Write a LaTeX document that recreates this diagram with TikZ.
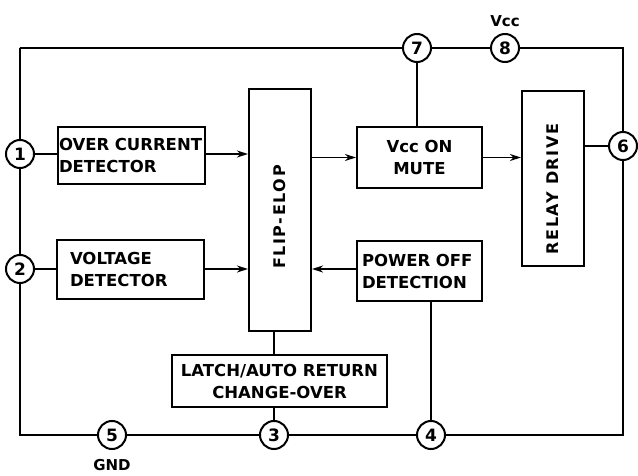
\documentclass[tikz,border=0pt]{standalone}
\usepackage{fontspec}
\setmainfont{DejaVu Sans}
\usetikzlibrary{arrows.meta}
\begin{document}
\begin{tikzpicture}[x=1pt,y=-1pt,
  blk/.style={draw, line width=2.1pt, inner ysep=0pt, font=\bfseries\fontsize{16.5}{22}\selectfont},
  vblk/.style={draw, line width=2.1pt, inner sep=0pt},
  pin/.style={draw, circle, fill=white, line width=2pt, minimum size=28pt, inner sep=0pt, font=\bfseries\fontsize{17}{17}\selectfont},
  lbl/.style={font=\bfseries\fontsize{15}{15}\selectfont},
  vtxt/.style={rotate=90, font=\bfseries\fontsize{16}{16}\selectfont\addfontfeature{LetterSpace=10}},
  wire/.style={line width=2.4pt},
  sig/.style={line width=1.6pt},
  arr/.style={sig, -{Stealth[length=11pt,width=7pt]}}]
\useasboundingbox (0,0) rectangle (638,476);
% boxes
\node[blk, minimum height=57pt, text width=145pt, inner xsep=1pt, align=left] (ocd) at (131.5,155.5) {OVER CURRENT\\DETECTOR};
\node[blk, minimum height=59pt, text width=121pt, inner xsep=13pt, align=left] (vd) at (130.5,269.5) {VOLTAGE\\DETECTOR};
\node[blk, minimum height=61pt, minimum width=125pt, align=center] (vom) at (419.5,157.5) {Vcc ON\\MUTE};
\node[blk, minimum height=60pt, text width=115pt, inner xsep=5pt, align=left] (pod) at (419.5,271) {POWER OFF\\DETECTION};
\node[blk, minimum height=52pt, minimum width=215pt, align=center] (latch) at (279.5,381) {LATCH/AUTO RETURN\\CHANGE-OVER};
\node[vblk, minimum width=62pt, minimum height=242pt] (ff) at (280,210) {};
\node[vtxt] (fft) at (280,217) {FLIP-ELOP};
\node[vblk, minimum width=62pt, minimum height=175pt] (rd) at (553,178.5) {};
\node[vtxt] (rdt) at (553,189) {RELAY DRIVE};
% frame corners
\coordinate (cTL) at (20,48);
\coordinate (cTR) at (623,48);
\coordinate (cBR) at (623,435);
\coordinate (cBL) at (20,435);
% pins
\node[pin] (p1) at (20,154) {1};
\node[pin] (p2) at (20,269) {2};
\node[pin] (p5) at (112,435) {5};
\node[pin] (p3) at (274,435) {3};
\node[pin] (p4) at (431,435) {4};
\node[pin] (p6) at (623,146) {6};
\node[pin] (p7) at (417,48) {7};
\node[pin] (p8) at (505,48) {8};
% labels
\node[lbl] (vcc) at (505,21) {Vcc};
\node[lbl] (gnd) at (112,465) {GND};
% frame
\draw[wire] (cTL) -- (p7) -- (p8) -- (cTR) -- (p6) -- (cBR) -- (p4) -- (p3) -- (p5) -- (cBL) -- (p2) -- (p1) -- (cTL) -- cycle;
% signals
\draw[sig] (p1) -- (p1 -| ocd.west);
\draw[arr] (ocd.east |- p1) -- (p1 -| ff.west);
\draw[sig] (p2) -- (p2 -| vd.west);
\draw[arr] (vd.east |- p2) -- (p2 -| ff.west);
\draw[arr] (ff.east |- vom.west) -- (vom.west);
\draw[arr] (vom.east) -- (vom.east -| rd.west);
\draw[sig] (rd.east |- p6) -- (p6);
\draw[sig] (p7) -- (p7 |- vom.north);
\draw[arr] (pod.west |- p2) -- (p2 -| ff.east);
\draw[wire] (p4 |- pod.south) -- (p4);
\draw[sig] (ff.south -| p3) -- (latch.north -| p3);
\draw[sig] (latch.south -| p3) -- (p3);
\end{tikzpicture}
\end{document}
